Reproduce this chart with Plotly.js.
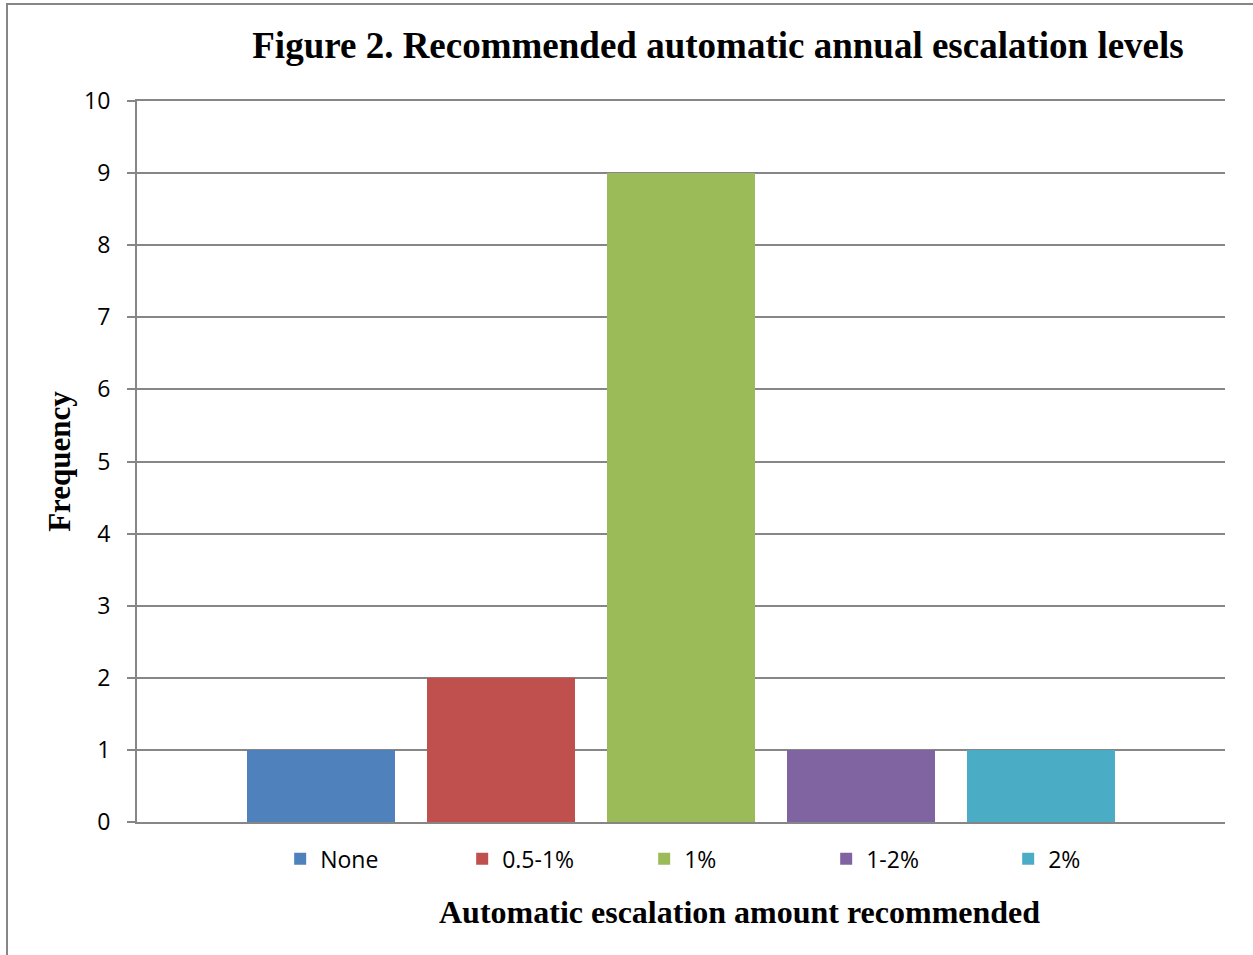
<!DOCTYPE html>
<html>
<head>
<meta charset="utf-8">
<script src="https://cdn.plot.ly/plotly-3.0.1.min.js"></script>
<style>html,body{margin:0;padding:0;background:#fff;}#chart{width:1253px;height:955px;}</style>
</head>
<body>
<div id="chart"></div>
<script>
const seriesNames = ['None', '0.5-1%', '1%', '1-2%', '2%'];
const seriesValues = [1, 2, 9, 1, 1];
const seriesColors = ['#4F81BD', '#C0504D', '#9BBB59', '#8064A2', '#4BACC6'];
const category = ['Automatic escalation'];
const yTicks = [0, 1, 2, 3, 4, 5, 6, 7, 8, 9, 10];

const traces = seriesNames.map((name, i) => ({
  type: 'bar',
  name: name,
  x: category,
  y: [seriesValues[i]],
  marker: {color: seriesColors[i], line: {width: 0}},
  hoverinfo: 'name+y'
}));

const gridColor = '#868686';
const layout = {
  width: 1253,
  height: 955,
  paper_bgcolor: '#ffffff',
  plot_bgcolor: '#ffffff',
  margin: {l: 137, r: 28, t: 101, b: 133},
  barmode: 'group',
  bargap: 0.1728,
  bargroupgap: 0.1778,
  font: {family: 'Open Sans, sans-serif', color: '#000000'},
  title: {
    text: 'Figure 2. Recommended automatic annual escalation levels',
    font: {family: 'Liberation Serif, serif', size: 37, color: '#000000', weight: 'bold'},
    xref: 'paper', x: 0.534, xanchor: 'center',
    yref: 'container', y: 0.953, yanchor: 'middle'
  },
  xaxis: {
    showticklabels: false,
    ticks: '',
    showgrid: false,
    showline: true,
    mirror: true,
    linecolor: gridColor,
    linewidth: 2,
    zeroline: false,
    fixedrange: true
  },
  yaxis: {
    range: [0, 10],
    tickvals: yTicks,
    ticktext: yTicks.map(String),
    ticks: 'outside',
    ticklen: 8,
    tickwidth: 2,
    tickcolor: gridColor,
    ticklabelstandoff: 12,
    tickfont: {family: 'Open Sans, sans-serif', size: 23, color: '#000000'},
    showgrid: true,
    gridcolor: gridColor,
    gridwidth: 2,
    showline: true,
    linecolor: gridColor,
    linewidth: 2,
    zeroline: false,
    fixedrange: true,
    title: {
      text: 'Frequency',
      font: {family: 'Liberation Serif, serif', size: 31, color: '#000000', weight: 'bold'},
      standoff: 4
    }
  },
  annotations: [{
    text: 'Automatic escalation amount recommended',
    xref: 'paper', yref: 'paper',
    x: (739 - 137) / 1088, y: (822 - 912) / 721,
    xanchor: 'center', yanchor: 'middle',
    showarrow: false,
    font: {family: 'Liberation Serif, serif', size: 32, color: '#000000', weight: 'bold'}
  }],
  showlegend: true,
  legend: {
    orientation: 'h',
    x: 0.1316, xanchor: 'left',
    y: -0.051, yanchor: 'middle',
    entrywidth: 137,
    entrywidthmode: 'pixels',
    font: {family: 'Open Sans, sans-serif', size: 23, color: '#000000'},
    itemwidth: 30,
    traceorder: 'normal'
  },
  shapes: [{
    type: 'rect', xref: 'paper', yref: 'paper',
    x0: (7 - 137) / 1088, x1: (1270 - 137) / 1088,
    y0: (822 - 970) / 721, y1: (822 - 4) / 721,
    line: {color: gridColor, width: 2},
    fillcolor: 'rgba(0,0,0,0)',
    layer: 'below'
  }]
};

Plotly.newPlot('chart', traces, layout, {displayModeBar: false, staticPlot: true});
</script>
</body>
</html>
